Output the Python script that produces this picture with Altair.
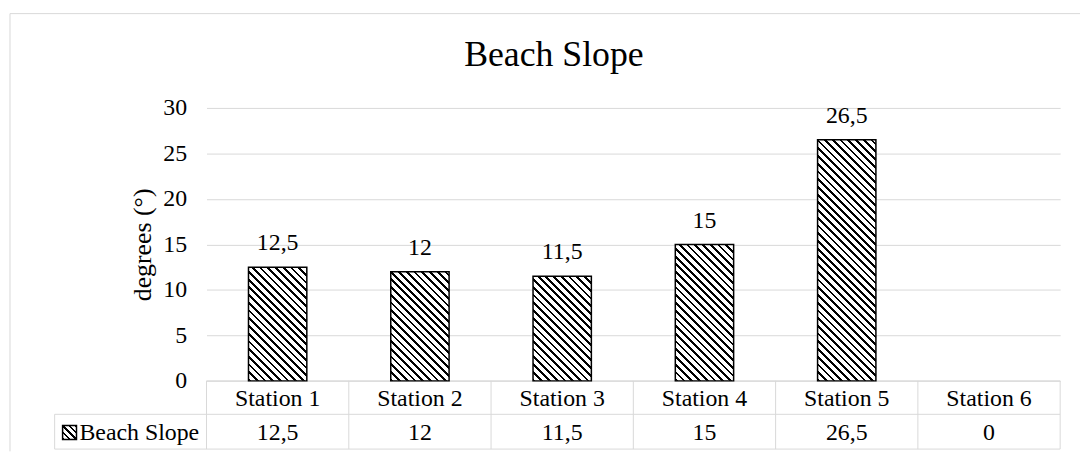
import math
import altair as alt
import pandas as pd

# ---- data ----
stations = ["Station 1", "Station 2", "Station 3", "Station 4", "Station 5", "Station 6"]
slope = [12.5, 12, 11.5, 15, 26.5, 0]
series_name = "Beach Slope"
chart_title = "Beach Slope"
y_title = "degrees (°)"
y_ticks = [0, 5, 10, 15, 20, 25, 30]

# ---- style ----
FONT = "Liberation Serif, Times New Roman, serif"
GRID = "#d9d9d9"
W, H = 860, 275
YMAX = 30
BAR_FRAC = 0.41
STEP = W / len(stations)
ROW1_BASE, ROW2_BASE = 300, 334.5
ROW_DIV, TABLE_BOTTOM = 308.7, 343.7
TABLE_LEFT = -153
TXT = 24

df = pd.DataFrame({"station": stations, "value": slope})
one = pd.DataFrame({"k": [0]})

x_scale = alt.Scale(domain=stations, paddingInner=0, paddingOuter=0)
y_scale = alt.Scale(domain=[0, YMAX], nice=False)

X = alt.X("station:N", scale=x_scale, axis=None)
Y = alt.Y(
    "value:Q",
    scale=y_scale,
    title=y_title,
    axis=alt.Axis(
        values=y_ticks,
        grid=True,
        gridColor=GRID,
        gridWidth=1,
        domain=False,
        ticks=False,
        tickSize=0,
        labelPadding=20,
        labelFont=FONT,
        labelFontSize=TXT,
        labelColor="black",
        titleFont=FONT,
        titleFontSize=26,
        titleFontWeight="normal",
        titleColor="black",
        titlePadding=7,
    ),
)


def hatch(w, h, period=5.5, dark=0.36):
    """Diagonal '\\' stripes as a linear gradient in bounding-box units."""
    L = w * w + h * h
    k = (w + h) / L
    x2 = w * k
    y2 = 1 - h * k
    D = (w + h) / math.sqrt(2)
    n = D / period
    stops = []
    i = 0
    while i / n < 1:
        a = round(i / n, 5)
        b = round(min((i + dark) / n, 1), 5)
        c = round(min((i + 1) / n, 1), 5)
        stops += [
            {"offset": a, "color": "black"},
            {"offset": b, "color": "black"},
            {"offset": b, "color": "white"},
            {"offset": c, "color": "white"},
        ]
        i += 1
    return {"gradient": "linear", "x1": 0, "y1": 1, "x2": round(x2, 5), "y2": round(y2, 5), "stops": stops}


layers = []

def hline(x1, x2, y, color=GRID):
    return alt.Chart(one).mark_rule(color=color, strokeWidth=1).encode(
        x=alt.value(x1), x2=alt.value(x2), y=alt.value(y))

def vline(x, y1, y2, color=GRID):
    return alt.Chart(one).mark_rule(color=color, strokeWidth=1).encode(
        x=alt.value(x), y=alt.value(y1), y2=alt.value(y2))

# outer frame and data-table lines
layers += [
    hline(-198, 900, -95),
    vline(-198, -95, 346),
    hline(0, W, H),
    hline(TABLE_LEFT, W, ROW_DIV),
    hline(TABLE_LEFT, W, TABLE_BOTTOM),
    vline(TABLE_LEFT, ROW_DIV, TABLE_BOTTOM),
    vline(W, H, TABLE_BOTTOM),
]

layers.append(
    alt.Chart(df).mark_rule(color=GRID, strokeWidth=1).encode(
        x=alt.X("station:N", scale=x_scale, axis=None, bandPosition=0),
        y=alt.value(H),
        y2=alt.value(TABLE_BOTTOM),
    )
)

# bars with hatch fill
bar_w = BAR_FRAC * STEP
for s, v in zip(stations, slope):
    if v <= 0:
        continue
    layers.append(
        alt.Chart(df)
        .transform_filter(alt.datum.station == s)
        .mark_bar(
            fill=hatch(bar_w, v * H / YMAX),
            stroke="black",
            strokeWidth=1.5,
            width=alt.RelativeBandSize(BAR_FRAC),
        )
        .encode(x=X, y=Y)
    )

label_calc = "replace(toString(datum.value), '.', ',')"

# data labels above bars
layers.append(
    alt.Chart(df)
    .transform_filter(alt.datum.value > 0)
    .transform_calculate(label=label_calc)
    .mark_text(dy=-17, baseline="alphabetic", font=FONT, fontSize=TXT, color="black")
    .encode(x=X, y=Y, text="label:N")
)

# data table rows
layers.append(
    alt.Chart(df)
    .mark_text(baseline="alphabetic", font=FONT, fontSize=TXT, color="black")
    .encode(x=X, y=alt.value(ROW1_BASE), text="station:N")
)
layers.append(
    alt.Chart(df)
    .transform_calculate(label=label_calc)
    .mark_text(baseline="alphabetic", font=FONT, fontSize=TXT, color="black")
    .encode(x=X, y=alt.value(ROW2_BASE), text="label:N")
)

# legend key + series name in table
layers.append(
    alt.Chart(one)
    .mark_rect(fill=hatch(14, 14, period=4.5, dark=0.4), stroke="black", strokeWidth=1.5)
    .encode(x=alt.value(-145), x2=alt.value(-131), y=alt.value(320), y2=alt.value(334))
)
layers.append(
    alt.Chart(one)
    .mark_text(align="left", baseline="alphabetic", font=FONT, fontSize=TXT, color="black")
    .encode(x=alt.value(-128), y=alt.value(ROW2_BASE), text=alt.value(series_name))
)

chart = (
    alt.layer(*layers)
    .properties(
        width=W,
        height=H,
        title=alt.Title(
            chart_title,
            font=FONT,
            fontSize=36,
            fontWeight="normal",
            color="black",
            anchor="middle",
            frame="group",
            dx=-80,
            offset=-89,
            baseline="alphabetic",
        ),
        padding={"left": 200, "top": 99, "right": 20, "bottom": 70},
        autosize=alt.AutoSizeParams(type="none"),
    )
    .configure(background="white", font=FONT)
    .configure_view(stroke=None)
)

chart.save("out.html", embed_options={"renderer": "svg", "actions": False})
